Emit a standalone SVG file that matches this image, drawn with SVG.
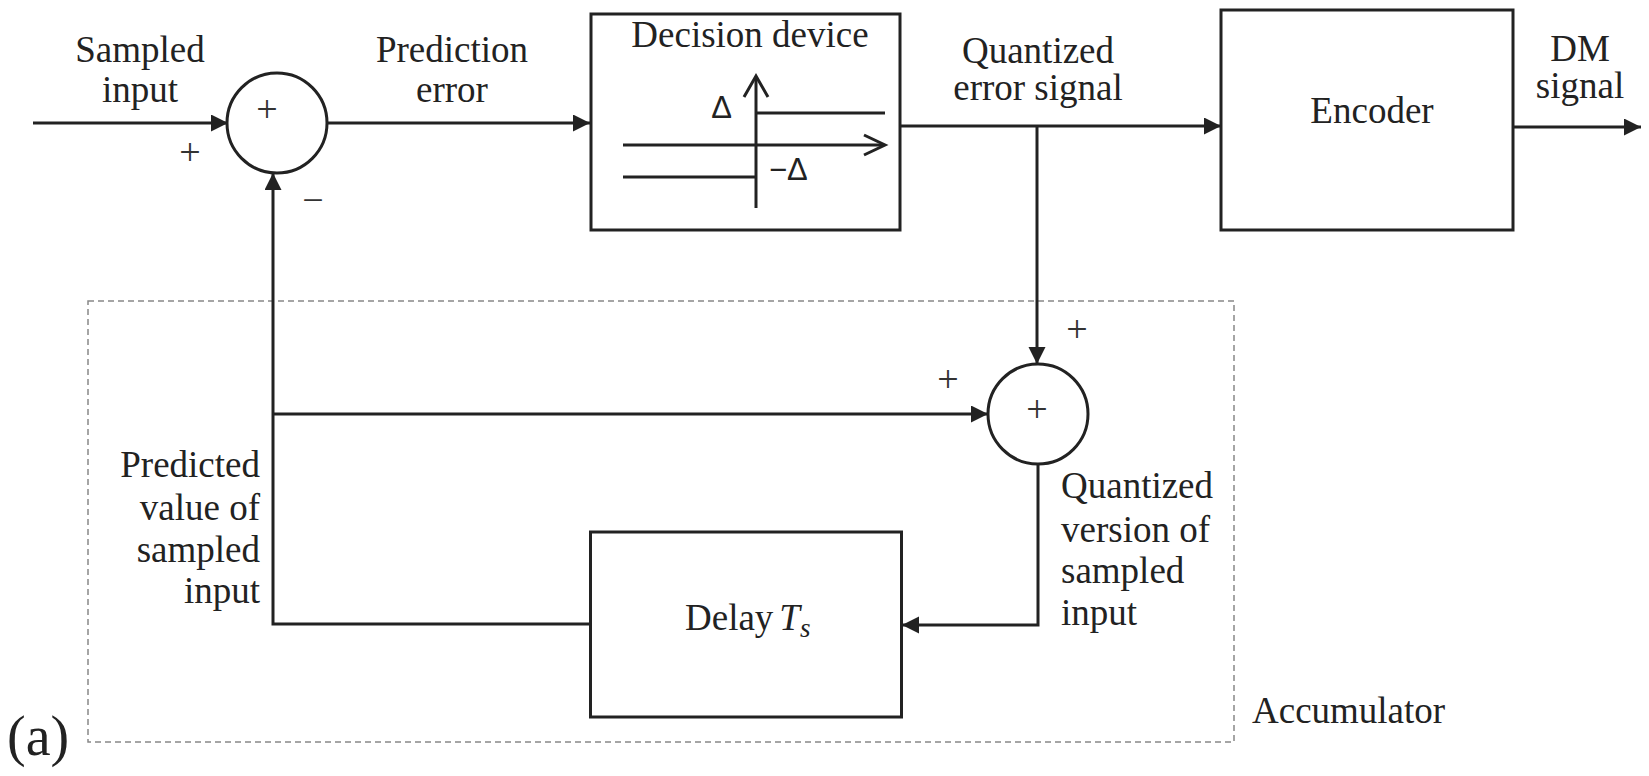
<svg xmlns="http://www.w3.org/2000/svg" width="1649" height="776" viewBox="0 0 1649 776">
  <style>
    .t { font-family: "Liberation Serif", "Times New Roman", serif; font-size: 37px; fill: #222; }
    .s { font-family: "Liberation Serif", "Times New Roman", serif; font-size: 38px; fill: #333; }
    .g { font-family: "Liberation Sans", Arial, sans-serif; font-size: 31px; fill: #222; }
    .big { font-size: 56px; }
    .box { fill: #fff; stroke: #222; stroke-width: 3; }
    .ln { fill: none; stroke: #222; stroke-width: 3; }
    .arr { marker-end: url(#ah); }
    .dash { fill: none; stroke: #888; stroke-width: 1.5; stroke-dasharray: 6 4; }
  </style>
  <defs>
    <marker id="ah" markerUnits="userSpaceOnUse" markerWidth="18" markerHeight="18" refX="17" refY="8.5" orient="auto">
      <path d="M0,0 L17,8.5 L0,17 z" fill="#222"/>
    </marker>
  </defs>
  <rect width="1649" height="776" fill="#fff"/>

  <g id="accumulator">
    <rect class="dash" x="88" y="301" width="1146" height="441"/>
    <text class="t" x="1252" y="723">Accumulator</text>
  </g>

  <g id="connectors">
    <path class="ln arr" d="M33,123 H228"/>
    <path class="ln arr" d="M327,123 H590"/>
    <path class="ln arr" d="M900,126 H1221"/>
    <path class="ln arr" d="M1513,127 H1641"/>
    <path class="ln arr" d="M1037,126 V364"/>
    <path class="ln arr" d="M1038,464 V625 H902"/>
    <path class="ln arr" d="M590,624 H273 V173"/>
    <path class="ln arr" d="M273,414 H988"/>
  </g>

  <g id="sum1">
    <circle class="box" cx="277" cy="123" r="50"/>
    <text class="s" x="267" y="122" text-anchor="middle">+</text>
  </g>

  <g id="decision">
    <rect class="box" x="591" y="14" width="309" height="216"/>
    <text class="t" x="750" y="47" text-anchor="middle">Decision device</text>
    <path class="ln" d="M756,208 V77"/>
    <path class="ln" d="M744,97 L756,76 L768,97"/>
    <path class="ln" d="M623,145 H884"/>
    <path class="ln" d="M864,135 L885,145 L864,155"/>
    <path class="ln" d="M756,113 H885"/>
    <path class="ln" d="M623,177 H756"/>
    <text class="g" x="721.5" y="118" text-anchor="middle">Δ</text>
    <text class="g" x="769" y="180">−Δ</text>
  </g>

  <g id="encoder">
    <rect class="box" x="1221" y="10" width="292" height="220"/>
    <text class="t" x="1372" y="123" text-anchor="middle">Encoder</text>
  </g>

  <g id="sum2">
    <circle class="box" cx="1038" cy="414" r="50"/>
    <text class="s" x="1037" y="422" text-anchor="middle">+</text>
  </g>

  <g id="delay">
    <rect class="box" x="590.5" y="532" width="311" height="185"/>
    <text class="t" x="685" y="630">Delay<tspan font-style="italic" dx="6">T</tspan><tspan font-style="italic" font-size="27" dy="7">s</tspan></text>
  </g>

  <g id="labels">
    <text class="t" x="140" y="62" text-anchor="middle">Sampled</text>
    <text class="t" x="140" y="102" text-anchor="middle">input</text>
    <text class="t" x="452" y="62" text-anchor="middle">Prediction</text>
    <text class="t" x="452" y="102" text-anchor="middle">error</text>
    <text class="t" x="1038" y="63" text-anchor="middle">Quantized</text>
    <text class="t" x="1038" y="100" text-anchor="middle">error signal</text>
    <text class="t" x="1580" y="61" text-anchor="middle">DM</text>
    <text class="t" x="1580" y="98" text-anchor="middle">signal</text>
    <text class="s" x="190" y="165" text-anchor="middle">+</text>
    <text class="s" x="313" y="213" text-anchor="middle">−</text>
    <text class="s" x="1077" y="342" text-anchor="middle">+</text>
    <text class="s" x="948" y="392" text-anchor="middle">+</text>
    <text class="t" x="260" y="477" text-anchor="end">Predicted</text>
    <text class="t" x="260" y="520" text-anchor="end">value of</text>
    <text class="t" x="260" y="562" text-anchor="end">sampled</text>
    <text class="t" x="260" y="603" text-anchor="end">input</text>
    <text class="t" x="1061" y="498">Quantized</text>
    <text class="t" x="1061" y="542">version of</text>
    <text class="t" x="1061" y="583">sampled</text>
    <text class="t" x="1061" y="625">input</text>
    <text class="t big" x="7" y="755">(a)</text>
  </g>
</svg>
